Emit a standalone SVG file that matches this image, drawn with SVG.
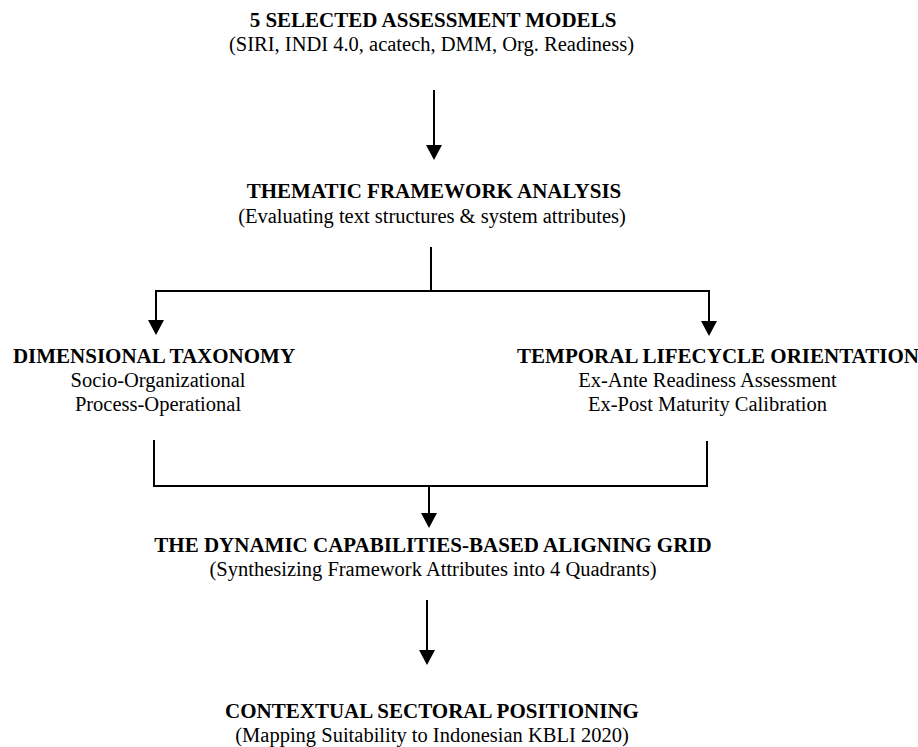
<svg xmlns="http://www.w3.org/2000/svg" width="918" height="747" viewBox="0 0 918 747">
<style>
.t{font-family:"Liberation Serif","Times New Roman",serif;font-size:20.5px;fill:#000;text-anchor:middle}
.b{font-weight:bold;font-size:21px}
.ln{fill:none;stroke:#000;stroke-width:2}
.hd{fill:#000;stroke:none}
</style>
<rect width="918" height="747" fill="#fff"/>
<g id="connectors">
<path class="ln" d="M434,90 V146"/>
<polygon class="hd" points="426,145 442,145 434,160"/>
<path class="ln" d="M431,247 V291 M156,321 V291 H709 V322"/>
<polygon class="hd" points="148,320 164,320 156,335"/>
<polygon class="hd" points="701,321 717,321 709,336"/>
<path class="ln" d="M154,440 V486 H707 V441 M429,486 V514"/>
<polygon class="hd" points="421,513 437,513 429,528"/>
<path class="ln" d="M427,600 V651"/>
<polygon class="hd" points="419,650 435,650 427,665"/>
</g>
<g id="models">
<text class="t b" x="433" y="27">5 SELECTED ASSESSMENT MODELS</text>
<text class="t" x="431.5" y="50.5">(SIRI, INDI 4.0, acatech, DMM, Org. Readiness)</text>
</g>
<g id="thematic">
<text class="t b" x="434" y="197.5">THEMATIC FRAMEWORK ANALYSIS</text>
<text class="t" x="432" y="222.5">(Evaluating text structures &amp; system attributes)</text>
</g>
<g id="dimensional">
<text class="t b" x="154" y="362.5">DIMENSIONAL TAXONOMY</text>
<text class="t" x="158" y="387">Socio-Organizational</text>
<text class="t" x="158" y="411">Process-Operational</text>
</g>
<g id="temporal">
<text class="t b" x="718" y="362.5">TEMPORAL LIFECYCLE ORIENTATION</text>
<text class="t" x="707.5" y="387">Ex-Ante Readiness Assessment</text>
<text class="t" x="707.5" y="411">Ex-Post Maturity Calibration</text>
</g>
<g id="grid">
<text class="t b" x="433" y="552">THE DYNAMIC CAPABILITIES-BASED ALIGNING GRID</text>
<text class="t" x="433" y="575.5">(Synthesizing Framework Attributes into 4 Quadrants)</text>
</g>
<g id="positioning">
<text class="t b" x="432" y="718">CONTEXTUAL SECTORAL POSITIONING</text>
<text class="t" x="432" y="741.5">(Mapping Suitability to Indonesian KBLI 2020)</text>
</g>
</svg>
